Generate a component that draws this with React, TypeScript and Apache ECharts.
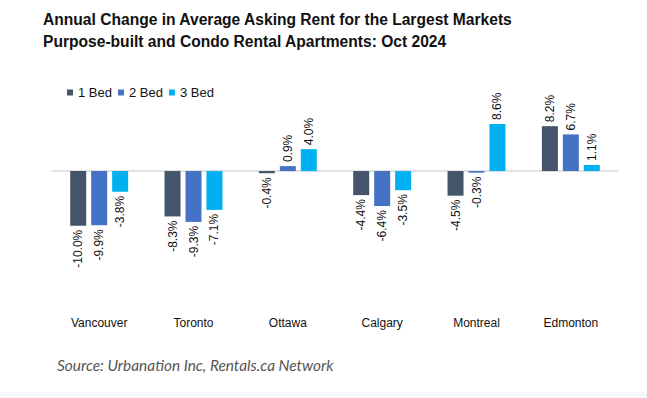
import React, { useEffect, useRef } from "react";
import * as echarts from "echarts";

const cities = ["Vancouver", "Toronto", "Ottawa", "Calgary", "Montreal", "Edmonton"];
const bed1 = [-10.0, -8.3, -0.4, -4.4, -4.5, 8.2];
const bed2 = [-9.9, -9.3, 0.9, -6.4, -0.3, 6.7];
const bed3 = [-3.8, -7.1, 4.0, -3.5, 8.6, 1.1];
const seriesNames = ["1 Bed", "2 Bed", "3 Bed"];
const seriesColors = ["#44546A", "#4472C4", "#00B0F0"];

const titleText =
  "Annual Change in Average Asking Rent for the Largest Markets\nPurpose-built and Condo Rental Apartments: Oct 2024";
const sourceText = "Source: Urbanation Inc, Rentals.ca Network";

export default function App() {
  const ref = useRef<HTMLDivElement>(null);
  useEffect(() => {
    document.body.style.margin = "0";
    if (!ref.current) return;
    const chart = echarts.init(ref.current, null, { renderer: "svg" });
    const makeData = (vals: number[]) =>
      vals.map((v) => ({
        value: v,
        label:
          v < 0
            ? { position: "bottom", align: "right" }
            : { position: "top", align: "left" },
      }));
    const allSeries = [bed1, bed2, bed3].map((vals, i) => ({
      name: seriesNames[i],
      type: "bar",
      xAxisIndex: 0,
      barWidth: 16,
      barGap: "31%",
      itemStyle: { color: seriesColors[i] },
      label: {
        show: true,
        rotate: 90,
        verticalAlign: "middle",
        distance: 4,
        fontFamily: "Liberation Sans, Arial, sans-serif",
        fontSize: 12,
        color: "#111",
        formatter: (p: any) => p.value.toFixed(1) + "%",
      },
      data: makeData(vals),
    }));
    chart.setOption({
      animation: false,
      backgroundColor: "#ffffff",
      title: [
        {
          text: titleText,
          left: 43,
          top: 8,
          padding: 0,
          textStyle: {
            fontFamily: "Liberation Sans, Arial, sans-serif",
            fontWeight: "bold",
            fontSize: 15.6,
            lineHeight: 22,
            color: "#111",
          },
        },
        {
          text: sourceText,
          left: 57,
          top: 357,
          padding: 0,
          textStyle: {
            fontFamily: "Lato, sans-serif",
            fontStyle: "italic",
            fontWeight: "normal",
            fontSize: 15.4,
            color: "#555",
          },
        },
      ],
      legend: {
        left: 62,
        top: 81,
        itemWidth: 6,
        itemHeight: 6,
        itemGap: 6,
        icon: "rect",
        textStyle: {
          fontFamily: "Liberation Sans, Arial, sans-serif",
          fontSize: 13,
          color: "#111",
        },
        data: seriesNames,
      },
      graphic: [
        {
          type: "rect",
          left: 0,
          top: 392,
          shape: { width: 647, height: 6 },
          style: { fill: "#f8f8f8" },
        },
      ],
      grid: { left: 52, width: 566, top: 105.4, height: 202.4 },
      xAxis: [
        {
          type: "category",
          data: cities,
          axisLine: { onZero: true, lineStyle: { color: "#d9d9d9", width: 1.5 } },
          axisTick: { show: false },
          axisLabel: { show: false },
        },
        {
          type: "category",
          data: cities,
          position: "bottom",
          axisLine: { show: false, onZero: false },
          axisTick: { show: false },
          axisLabel: {
            margin: 9,
            fontFamily: "Liberation Sans, Arial, sans-serif",
            fontSize: 12,
            color: "#111",
          },
        },
      ],
      yAxis: {
        type: "value",
        min: -25,
        max: 12,
        show: false,
        splitLine: { show: false },
      },
      series: allSeries,
    });
    return () => chart.dispose();
  }, []);
  return <div ref={ref} style={{ width: 647, height: 398 }} />;
}
